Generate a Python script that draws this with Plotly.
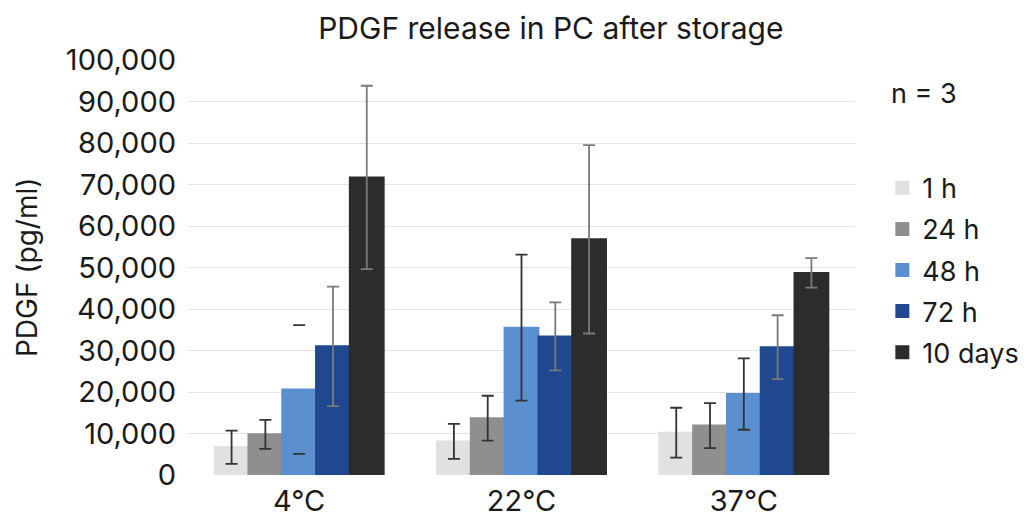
import plotly.graph_objects as go

categories = ["4°C", "22°C", "37°C"]
series_names = ["1 h", "24 h", "48 h", "72 h", "10 days"]
values_1h = [6700, 8100, 10200]
values_24h = [9800, 13700, 11900]
values_48h = [20600, 35500, 19500]
values_72h = [31000, 33400, 30800]
values_10d = [71700, 56800, 48700]
err_1h = [4000, 4200, 6000]
err_24h = [3500, 5400, 5400]
err_48h = [15500, 17600, 8600]
err_72h = [14400, 8200, 7700]
err_10d = [22100, 22700, 3550]
# error bar on 4°C / 48 h is drawn as caps only in the original
caps_only = {"series": "48 h", "category": "4°C"}
y_ticks = list(range(0, 100001, 10000))

values = [values_1h, values_24h, values_48h, values_72h, values_10d]
errors = [err_1h, err_24h, err_48h, err_72h, err_10d]
colors = ["#e0e1e3", "#8f8f8f", "#5b8fd0", "#1f4890", "#2c2c2c"]
err_colors = ["#333333", "#333333", "#333333", "#7a7a7a", "#7a7a7a"]

FONT = "Inter, Liberation Sans, Arial, sans-serif"
TXT = "#1a1a1a"
CLEAR = "rgba(0,0,0,0)"

fig = go.Figure()
# bars
for name, vals, col in zip(series_names, values, colors):
    fig.add_trace(go.Bar(
        x=categories, y=vals, name=name, offsetgroup=name, legendgroup=name,
        marker=dict(color=col, line=dict(color=col, width=2)),
        hoverinfo="x+y+name",
    ))

# full error bars (transparent overlay bars in the same slot)
for name, vals, errs, ecol in zip(series_names, values, errors, err_colors):
    xs, ys, es = [], [], []
    for cat, v, e in zip(categories, vals, errs):
        if name == caps_only["series"] and cat == caps_only["category"]:
            continue
        xs.append(cat); ys.append(v); es.append(e)
    fig.add_trace(go.Bar(
        x=xs, y=ys, offsetgroup=name, showlegend=False,
        marker=dict(color=CLEAR, line=dict(width=0)),
        error_y=dict(type="data", array=es, visible=True, color=ecol,
                     thickness=1.8, width=6),
        hoverinfo="skip",
    ))

# caps-only error marks for the special case
i = series_names.index(caps_only["series"])
j = categories.index(caps_only["category"])
for yv in (values[i][j] + errors[i][j], values[i][j] - errors[i][j]):
    fig.add_trace(go.Bar(
        x=[categories[j]], y=[yv], offsetgroup=series_names[i], showlegend=False,
        marker=dict(color=CLEAR, line=dict(width=0)),
        error_y=dict(type="data", array=[0], visible=True, color="#333333",
                     thickness=1.8, width=6),
        hoverinfo="skip",
    ))

fig.update_layout(
    width=1032, height=522,
    margin=dict(l=180, r=185, t=52, b=55),
    paper_bgcolor="white", plot_bgcolor="white",
    barmode="group", bargap=0.24, bargroupgap=0,
    font=dict(family=FONT, color=TXT, size=26),
    title=dict(text="PDGF release in PC after storage", xref="paper", x=0.544,
               xanchor="center", y=0.96, yanchor="middle",
               font=dict(size=30, family=FONT, color=TXT)),
    legend=dict(x=1.041, xanchor="left", y=0.75, yanchor="top",
                font=dict(size=27, family=FONT, color=TXT),
                traceorder="grouped", tracegroupgap=3, itemwidth=30,
                bgcolor="rgba(0,0,0,0)"),
    showlegend=True,
    annotations=[
        dict(text="n = 3", xref="paper", yref="paper", x=1.051, y=0.92,
             xanchor="left", yanchor="middle", showarrow=False,
             font=dict(size=27, family=FONT, color=TXT)),
        dict(text="PDGF (pg/ml)", xref="paper", yref="paper", x=-0.242, y=0.5,
             xanchor="center", yanchor="middle", textangle=-90, showarrow=False,
             font=dict(size=28, family=FONT, color=TXT)),
    ],
)
fig.update_xaxes(showline=False, ticks="", tickfont=dict(size=29, family=FONT, color=TXT),
                 showgrid=False, ticklabelstandoff=6)
fig.update_yaxes(range=[0, 100000], tickvals=y_ticks, tickformat=",",
                 showgrid=True, gridcolor="#e4e4e4", gridwidth=1.2,
                 zeroline=False, showline=False, ticks="",
                 tickfont=dict(size=29, family=FONT, color=TXT), ticklabelstandoff=11)

fig.write_html("out.html")
